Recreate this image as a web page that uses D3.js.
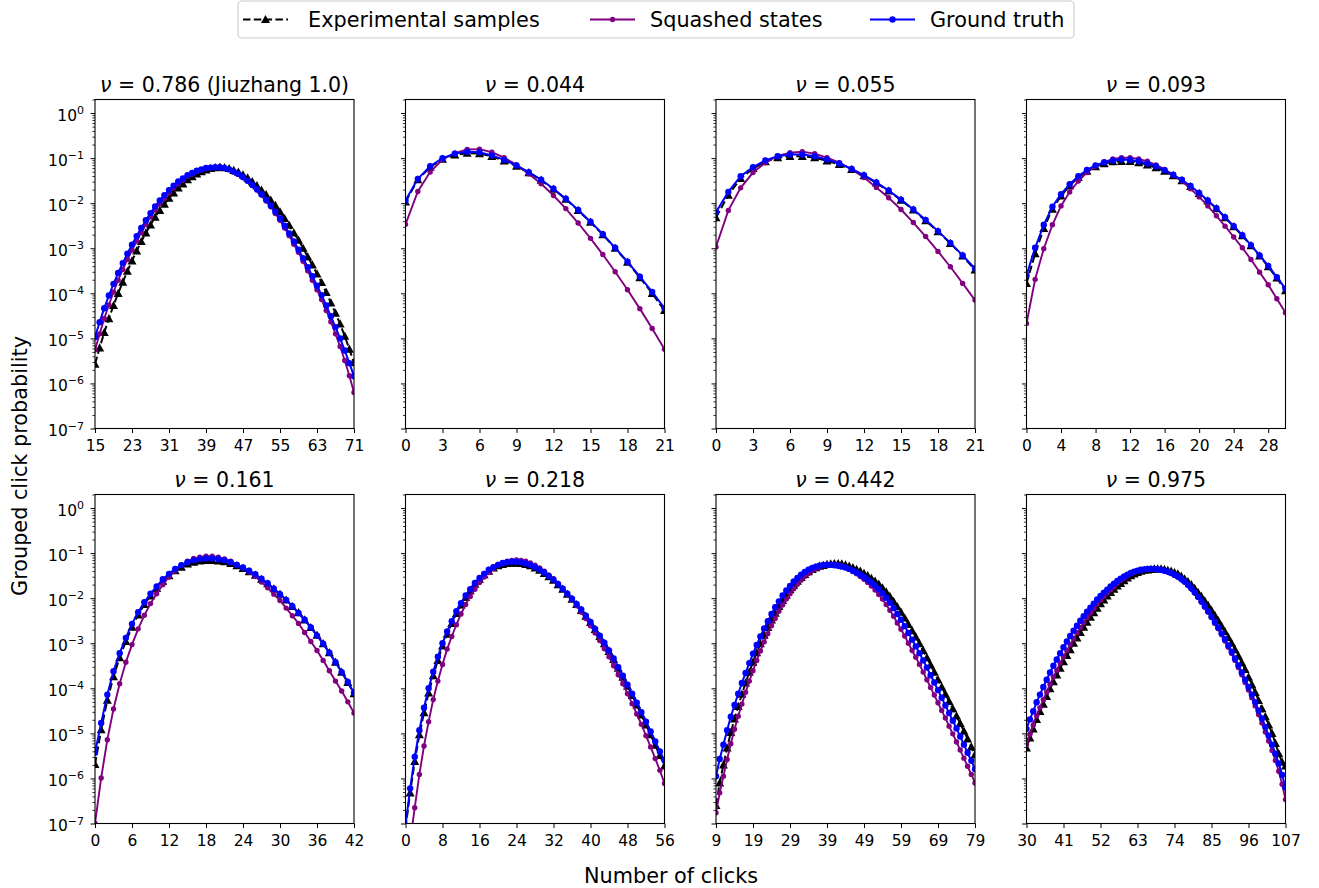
<!DOCTYPE html>
<html>
<head>
<meta charset="utf-8">
<script src="https://cdn.jsdelivr.net/npm/d3@7"></script>
<style>
  body { margin: 0; background: #fff; }
  text { font-family: "DejaVu Sans", sans-serif; fill: #000; }
</style>
</head>
<body>
<svg width="1319" height="888"></svg>
<script>
// panel titles and click ranges
var nuValues = ["0.786", "0.044", "0.055", "0.093", "0.161", "0.218", "0.442", "0.975"];
var titleNotes = [" (Jiuzhang 1.0)", "", "", "", "", "", "", ""];
var firstClick = [15, 0, 0, 0, 0, 0, 9, 30];
var lastClick = [71, 21, 21, 30, 42, 56, 79, 107];
var xTickValues = [
  [15, 23, 31, 39, 47, 55, 63, 71],
  [0, 3, 6, 9, 12, 15, 18, 21],
  [0, 3, 6, 9, 12, 15, 18, 21],
  [0, 4, 8, 12, 16, 20, 24, 28],
  [0, 6, 12, 18, 24, 30, 36, 42],
  [0, 8, 16, 24, 32, 40, 48, 56],
  [9, 19, 29, 39, 49, 59, 69, 79],
  [30, 41, 52, 63, 74, 85, 96, 107]
];
var yTickExponents = [0, -1, -2, -3, -4, -5, -6, -7];
var seriesNames = ["Experimental samples", "Squashed states", "Ground truth"];

// log10 of grouped click probability
// nu = 0.786 (clicks 15..71)
var exp0786 = [-5.57,-5.21,-4.87,-4.56,-4.27,-4.00,-3.75,-3.51,-3.28,-3.06,-2.85,-2.66,-2.48,-2.31,-2.16,-2.02,-1.89,-1.77,-1.66,-1.57,-1.48,-1.41,-1.35,-1.30,-1.26,-1.23,-1.21,-1.20,-1.21,-1.23,-1.27,-1.31,-1.37,-1.44,-1.52,-1.61,-1.71,-1.81,-1.93,-2.05,-2.19,-2.34,-2.49,-2.66,-2.82,-3.00,-3.19,-3.37,-3.57,-3.76,-3.98,-4.21,-4.44,-4.68,-4.95,-5.24,-5.54];
var sq0786 = [-5.26,-4.90,-4.56,-4.26,-3.97,-3.71,-3.47,-3.25,-3.04,-2.84,-2.65,-2.47,-2.30,-2.15,-2.01,-1.89,-1.77,-1.66,-1.57,-1.49,-1.41,-1.36,-1.30,-1.27,-1.23,-1.22,-1.20,-1.20,-1.22,-1.25,-1.30,-1.36,-1.43,-1.51,-1.61,-1.71,-1.82,-1.95,-2.08,-2.23,-2.38,-2.55,-2.72,-2.91,-3.09,-3.29,-3.50,-3.71,-3.92,-4.14,-4.38,-4.63,-4.90,-5.18,-5.49,-5.83,-6.20];
var gt0786 = [-4.97,-4.64,-4.33,-4.05,-3.79,-3.55,-3.33,-3.12,-2.92,-2.73,-2.55,-2.38,-2.22,-2.07,-1.94,-1.82,-1.71,-1.61,-1.52,-1.45,-1.38,-1.33,-1.28,-1.25,-1.22,-1.21,-1.20,-1.20,-1.22,-1.25,-1.30,-1.35,-1.42,-1.50,-1.59,-1.69,-1.80,-1.92,-2.05,-2.19,-2.34,-2.50,-2.67,-2.85,-3.03,-3.22,-3.42,-3.62,-3.83,-4.04,-4.27,-4.51,-4.75,-5.00,-5.27,-5.55,-5.84];
// nu = 0.044 (clicks 0..21)
var exp0044 = [-1.97,-1.48,-1.20,-1.02,-0.93,-0.89,-0.90,-0.96,-1.06,-1.18,-1.32,-1.49,-1.69,-1.91,-2.16,-2.42,-2.70,-3.00,-3.31,-3.65,-4.00,-4.38];
var sq0044 = [-2.47,-1.74,-1.31,-1.03,-0.89,-0.81,-0.80,-0.87,-0.99,-1.15,-1.35,-1.57,-1.83,-2.12,-2.44,-2.78,-3.14,-3.52,-3.92,-4.34,-4.78,-5.24];
var gt0044 = [-1.94,-1.46,-1.18,-1.00,-0.90,-0.86,-0.87,-0.94,-1.04,-1.16,-1.31,-1.48,-1.68,-1.90,-2.15,-2.41,-2.69,-2.99,-3.30,-3.63,-3.97,-4.33];
// nu = 0.055 (clicks 0..21)
var exp0055 = [-2.32,-1.82,-1.45,-1.23,-1.08,-0.99,-0.96,-0.96,-0.99,-1.06,-1.14,-1.25,-1.39,-1.55,-1.73,-1.93,-2.15,-2.39,-2.63,-2.89,-3.17,-3.48];
var sq0055 = [-2.97,-2.16,-1.66,-1.32,-1.10,-0.95,-0.88,-0.86,-0.90,-0.99,-1.10,-1.25,-1.43,-1.65,-1.88,-2.14,-2.43,-2.74,-3.07,-3.41,-3.78,-4.15];
var gt0055 = [-2.20,-1.75,-1.40,-1.20,-1.05,-0.96,-0.92,-0.92,-0.96,-1.03,-1.12,-1.24,-1.38,-1.54,-1.72,-1.92,-2.14,-2.37,-2.62,-2.88,-3.16,-3.45];
// nu = 0.093 (clicks 0..30)
var exp0093 = [-3.78,-3.12,-2.56,-2.13,-1.84,-1.61,-1.43,-1.29,-1.19,-1.12,-1.08,-1.07,-1.07,-1.10,-1.15,-1.21,-1.29,-1.39,-1.50,-1.63,-1.78,-1.95,-2.12,-2.32,-2.52,-2.72,-2.94,-3.17,-3.41,-3.66,-3.94];
var sq0093 = [-4.67,-3.69,-3.01,-2.48,-2.06,-1.75,-1.51,-1.32,-1.18,-1.09,-1.02,-0.99,-0.99,-1.02,-1.07,-1.15,-1.25,-1.37,-1.51,-1.68,-1.86,-2.06,-2.28,-2.51,-2.75,-2.99,-3.25,-3.53,-3.81,-4.12,-4.43];
var gt0093 = [-3.60,-2.99,-2.48,-2.08,-1.80,-1.58,-1.40,-1.26,-1.16,-1.09,-1.05,-1.03,-1.04,-1.07,-1.12,-1.18,-1.27,-1.37,-1.48,-1.62,-1.77,-1.94,-2.11,-2.31,-2.51,-2.71,-2.93,-3.16,-3.39,-3.64,-3.90];
// nu = 0.161 (clicks 0..42)
var exp0161 = [-5.69,-4.92,-4.26,-3.74,-3.32,-2.96,-2.64,-2.37,-2.14,-1.95,-1.78,-1.62,-1.50,-1.39,-1.31,-1.24,-1.20,-1.17,-1.16,-1.16,-1.17,-1.19,-1.23,-1.28,-1.34,-1.41,-1.49,-1.58,-1.68,-1.79,-1.91,-2.04,-2.18,-2.32,-2.48,-2.65,-2.82,-3.01,-3.21,-3.42,-3.64,-3.87,-4.12];
var sq0161 = [-7.00,-5.99,-5.14,-4.46,-3.90,-3.42,-3.03,-2.68,-2.38,-2.12,-1.90,-1.70,-1.53,-1.39,-1.27,-1.18,-1.12,-1.09,-1.07,-1.07,-1.09,-1.13,-1.18,-1.25,-1.33,-1.42,-1.52,-1.64,-1.77,-1.91,-2.05,-2.22,-2.39,-2.56,-2.76,-2.96,-3.16,-3.38,-3.61,-3.84,-4.06,-4.30,-4.55];
var gt0161 = [-5.43,-4.77,-4.14,-3.62,-3.22,-2.88,-2.57,-2.31,-2.09,-1.90,-1.74,-1.58,-1.46,-1.35,-1.27,-1.20,-1.16,-1.13,-1.12,-1.12,-1.13,-1.16,-1.20,-1.26,-1.32,-1.39,-1.47,-1.57,-1.67,-1.79,-1.91,-2.04,-2.18,-2.33,-2.48,-2.65,-2.83,-3.01,-3.21,-3.42,-3.64,-3.86,-4.10];
// nu = 0.218 (clicks 0..56)
var exp0218 = [-7.10,-6.32,-5.62,-5.03,-4.54,-4.10,-3.72,-3.38,-3.06,-2.80,-2.56,-2.34,-2.15,-1.98,-1.83,-1.69,-1.58,-1.48,-1.40,-1.33,-1.28,-1.25,-1.23,-1.22,-1.22,-1.23,-1.25,-1.28,-1.33,-1.38,-1.45,-1.52,-1.60,-1.70,-1.80,-1.91,-2.02,-2.14,-2.27,-2.40,-2.54,-2.69,-2.85,-3.01,-3.18,-3.36,-3.55,-3.75,-3.95,-4.16,-4.37,-4.59,-4.81,-5.03,-5.26,-5.49,-5.72];
var sq0218 = [-8.20,-7.40,-6.65,-5.91,-5.28,-4.74,-4.25,-3.84,-3.47,-3.13,-2.85,-2.59,-2.35,-2.14,-1.96,-1.80,-1.65,-1.53,-1.43,-1.34,-1.27,-1.22,-1.18,-1.16,-1.15,-1.16,-1.18,-1.22,-1.27,-1.33,-1.40,-1.49,-1.57,-1.68,-1.79,-1.91,-2.03,-2.17,-2.31,-2.45,-2.61,-2.77,-2.94,-3.12,-3.30,-3.50,-3.70,-3.90,-4.12,-4.34,-4.57,-4.80,-5.05,-5.30,-5.56,-5.82,-6.11];
var gt0218 = [-7.05,-6.22,-5.52,-4.93,-4.43,-4.00,-3.63,-3.30,-3.00,-2.74,-2.51,-2.29,-2.11,-1.94,-1.80,-1.66,-1.55,-1.46,-1.37,-1.31,-1.26,-1.22,-1.20,-1.19,-1.19,-1.20,-1.23,-1.26,-1.31,-1.37,-1.43,-1.51,-1.59,-1.69,-1.79,-1.90,-2.01,-2.13,-2.25,-2.39,-2.53,-2.68,-2.83,-2.99,-3.16,-3.34,-3.53,-3.72,-3.92,-4.12,-4.32,-4.53,-4.74,-4.96,-5.18,-5.40,-5.60];
// nu = 0.442 (clicks 9..79)
var exp0442 = [-6.60,-6.10,-5.70,-5.32,-4.98,-4.68,-4.40,-4.13,-3.88,-3.64,-3.42,-3.21,-3.01,-2.82,-2.65,-2.48,-2.33,-2.18,-2.05,-1.93,-1.81,-1.71,-1.62,-1.54,-1.47,-1.41,-1.36,-1.32,-1.29,-1.27,-1.25,-1.24,-1.23,-1.23,-1.24,-1.26,-1.29,-1.32,-1.36,-1.40,-1.45,-1.50,-1.56,-1.62,-1.69,-1.77,-1.86,-1.96,-2.07,-2.19,-2.31,-2.44,-2.58,-2.72,-2.86,-3.01,-3.16,-3.32,-3.48,-3.64,-3.81,-3.97,-4.13,-4.29,-4.45,-4.61,-4.78,-4.95,-5.12,-5.30,-5.47];
var sq0442 = [-6.76,-6.32,-5.95,-5.58,-5.23,-4.91,-4.62,-4.35,-4.09,-3.84,-3.61,-3.38,-3.17,-2.97,-2.79,-2.61,-2.45,-2.29,-2.15,-2.02,-1.90,-1.79,-1.69,-1.60,-1.52,-1.45,-1.39,-1.35,-1.31,-1.28,-1.26,-1.25,-1.25,-1.26,-1.28,-1.32,-1.36,-1.41,-1.46,-1.52,-1.58,-1.65,-1.73,-1.82,-1.92,-2.02,-2.14,-2.27,-2.40,-2.55,-2.69,-2.84,-3.00,-3.16,-3.31,-3.47,-3.64,-3.81,-3.98,-4.15,-4.32,-4.49,-4.66,-4.84,-5.01,-5.19,-5.37,-5.55,-5.73,-5.91,-6.10];
var gt0442 = [-5.95,-5.57,-5.25,-4.93,-4.63,-4.37,-4.12,-3.88,-3.66,-3.44,-3.23,-3.04,-2.85,-2.67,-2.51,-2.35,-2.20,-2.07,-1.94,-1.83,-1.73,-1.63,-1.55,-1.48,-1.42,-1.37,-1.33,-1.30,-1.28,-1.26,-1.26,-1.26,-1.27,-1.28,-1.30,-1.32,-1.35,-1.39,-1.43,-1.48,-1.53,-1.59,-1.65,-1.72,-1.80,-1.89,-1.99,-2.10,-2.22,-2.35,-2.48,-2.62,-2.77,-2.92,-3.07,-3.22,-3.38,-3.54,-3.71,-3.87,-4.04,-4.21,-4.38,-4.55,-4.72,-4.89,-5.07,-5.25,-5.43,-5.61,-5.79];
// nu = 0.975 (clicks 30..107)
var exp0975 = [-5.32,-5.10,-4.90,-4.69,-4.51,-4.35,-4.18,-4.01,-3.85,-3.70,-3.55,-3.41,-3.27,-3.14,-3.00,-2.88,-2.76,-2.64,-2.53,-2.42,-2.32,-2.22,-2.12,-2.04,-1.95,-1.87,-1.80,-1.73,-1.67,-1.61,-1.55,-1.50,-1.46,-1.43,-1.40,-1.38,-1.37,-1.36,-1.35,-1.35,-1.35,-1.36,-1.38,-1.40,-1.43,-1.46,-1.51,-1.57,-1.63,-1.70,-1.78,-1.87,-1.96,-2.06,-2.16,-2.27,-2.38,-2.50,-2.62,-2.74,-2.87,-3.00,-3.14,-3.28,-3.43,-3.58,-3.75,-3.92,-4.09,-4.27,-4.45,-4.63,-4.81,-5.00,-5.22,-5.45,-5.64,-5.72];
var sq0975 = [-5.25,-5.02,-4.82,-4.61,-4.43,-4.25,-4.08,-3.91,-3.75,-3.60,-3.44,-3.30,-3.16,-3.03,-2.90,-2.77,-2.65,-2.54,-2.43,-2.33,-2.23,-2.13,-2.04,-1.96,-1.88,-1.81,-1.74,-1.67,-1.61,-1.56,-1.51,-1.46,-1.43,-1.40,-1.38,-1.37,-1.36,-1.35,-1.35,-1.36,-1.37,-1.39,-1.42,-1.45,-1.49,-1.53,-1.58,-1.64,-1.71,-1.79,-1.88,-1.98,-2.09,-2.20,-2.31,-2.43,-2.56,-2.68,-2.81,-2.95,-3.09,-3.23,-3.38,-3.54,-3.70,-3.87,-4.04,-4.21,-4.39,-4.58,-4.77,-4.97,-5.17,-5.38,-5.60,-5.84,-6.13,-6.47];
var gt0975 = [-4.90,-4.69,-4.51,-4.31,-4.14,-3.97,-3.81,-3.65,-3.50,-3.36,-3.22,-3.09,-2.96,-2.84,-2.72,-2.61,-2.50,-2.40,-2.30,-2.21,-2.12,-2.03,-1.95,-1.88,-1.81,-1.74,-1.68,-1.62,-1.57,-1.52,-1.48,-1.44,-1.41,-1.39,-1.37,-1.36,-1.35,-1.35,-1.35,-1.36,-1.37,-1.39,-1.41,-1.44,-1.48,-1.52,-1.57,-1.63,-1.70,-1.78,-1.87,-1.97,-2.07,-2.18,-2.29,-2.41,-2.53,-2.65,-2.78,-2.91,-3.05,-3.19,-3.34,-3.49,-3.65,-3.81,-3.97,-4.14,-4.31,-4.49,-4.67,-4.86,-5.05,-5.25,-5.45,-5.67,-5.92,-6.20];

var expData = [exp0786, exp0044, exp0055, exp0093, exp0161, exp0218, exp0442, exp0975];
var sqData = [sq0786, sq0044, sq0055, sq0093, sq0161, sq0218, sq0442, sq0975];
var gtData = [gt0786, gt0044, gt0055, gt0093, gt0161, gt0218, gt0442, gt0975];

var svg = d3.select("svg");
var panelLefts = [95, 405.5, 716, 1026.5],
    rowTops = [99.5, 494.5],
    pw = 259, ph = 329;

var styles = [
  { color: "#000000", dash: "7.5,3.3", marker: "triangle", width: 2 },
  { color: "#800080", dash: null, marker: "circle", r: 2.7, width: 1.9 },
  { color: "#0000ff", dash: null, marker: "circle", r: 3.2, width: 2 }
];

var trianglePath = "M0,-4.6L4.5,3.6L-4.5,3.6Z";

function drawMarkers(sel, pts, st, xf, yf) {
  if (st.marker === "triangle") {
    sel.selectAll("path.mk").data(pts).enter().append("path")
      .attr("class", "mk")
      .attr("d", trianglePath)
      .attr("transform", function(d) { return "translate(" + xf(d) + "," + yf(d) + ")"; })
      .attr("fill", st.color);
  } else {
    sel.selectAll("circle.mk").data(pts).enter().append("circle")
      .attr("class", "mk")
      .attr("cx", xf).attr("cy", yf)
      .attr("r", st.r)
      .attr("fill", st.color);
  }
}

var defs = svg.append("defs");
var minorVals = [];
yTickExponents.forEach(function(e) {
  for (var m = 2; m <= 9; m++) {
    if (m * Math.pow(10, e) <= 2) minorVals.push(m * Math.pow(10, e));
  }
});

nuValues.forEach(function(nu, i) {
  var col = i % 4, row = Math.floor(i / 4);
  var g = svg.append("g")
    .attr("transform", "translate(" + panelLefts[col] + "," + rowTops[row] + ")");

  var x = d3.scaleLinear().domain([firstClick[i], lastClick[i]]).range([0, pw]);
  var y = d3.scaleLog().domain([1e-7, 2]).range([ph, 0]);

  defs.append("clipPath").attr("id", "clip" + i)
    .append("rect").attr("width", pw).attr("height", ph);

  var plot = g.append("g").attr("clip-path", "url(#clip" + i + ")");

  [expData[i], sqData[i], gtData[i]].forEach(function(vals, s) {
    var st = styles[s];
    var pts = vals.map(function(v, k) { return { c: firstClick[i] + k, p: Math.pow(10, v) }; });
    var line = d3.line().x(function(d) { return x(d.c); }).y(function(d) { return y(d.p); });
    plot.append("path")
      .datum(pts)
      .attr("d", line)
      .attr("fill", "none")
      .attr("stroke", st.color)
      .attr("stroke-width", st.width)
      .attr("stroke-dasharray", st.dash);
    drawMarkers(plot.append("g"), pts,
      st, function(d) { return x(d.c); }, function(d) { return y(d.p); });
  });

  // x axis
  var xa = g.append("g")
    .attr("transform", "translate(0," + ph + ")")
    .call(d3.axisBottom(x).tickValues(xTickValues[i]).tickSize(4.5).tickPadding(6.8)
      .tickFormat(d3.format("d")));
  xa.select(".domain").remove();
  xa.selectAll("text").attr("font-size", 15.5).attr("font-family", "DejaVu Sans");

  // y axis, major + minor ticks
  var ya = g.append("g")
    .call(d3.axisLeft(y).tickValues(yTickExponents.map(function(e) { return Math.pow(10, e); }))
      .tickSize(4.5).tickFormat(""));
  ya.select(".domain").remove();
  var ym = g.append("g")
    .call(d3.axisLeft(y).tickValues(minorVals).tickSize(2.6).tickFormat(""));
  ym.select(".domain").remove();
  ym.selectAll("line").attr("stroke-width", 0.8);

  if (col === 0) {
    yTickExponents.forEach(function(e) {
      var t = g.append("text")
        .attr("x", -11)
        .attr("y", y(Math.pow(10, e)) + 7.5)
        .attr("text-anchor", "end")
        .attr("font-size", 15.5);
      t.append("tspan").text("10");
      t.append("tspan").attr("dy", -6.5).attr("font-size", 11)
        .text(e < 0 ? "\u2212" + (-e) : String(e));
    });
  }

  // frame
  g.append("rect")
    .attr("width", pw).attr("height", ph)
    .attr("fill", "none").attr("stroke", "#000").attr("stroke-width", 1.1);

  // title
  var title = g.append("text")
    .attr("x", pw / 2).attr("y", -8)
    .attr("text-anchor", "middle")
    .attr("font-size", 20.5);
  title.append("tspan").attr("font-style", "italic").text("\u03bd");
  title.append("tspan").text(" = " + nu + titleNotes[i]);
});

// axis labels
svg.append("text")
  .attr("x", 671).attr("y", 883)
  .attr("text-anchor", "middle")
  .attr("font-size", 20.8)
  .text("Number of clicks");

svg.append("text")
  .attr("transform", "translate(27,466) rotate(-90)")
  .attr("text-anchor", "middle")
  .attr("font-size", 20.8)
  .text("Grouped click probability");

// legend
var legend = svg.append("g");
legend.append("rect")
  .attr("x", 238).attr("y", 1).attr("width", 836).attr("height", 37).attr("rx", 4)
  .attr("fill", "#fff").attr("stroke", "#cccccc").attr("stroke-width", 1.1);

var legendHandleX = [243, 590, 870];
var legendTextX = [308, 650, 930];
seriesNames.forEach(function(name, s) {
  var st = styles[s];
  var lg = legend.append("g");
  lg.append("line")
    .attr("x1", legendHandleX[s]).attr("x2", legendHandleX[s] + 45)
    .attr("y1", 19.5).attr("y2", 19.5)
    .attr("stroke", st.color).attr("stroke-width", st.width)
    .attr("stroke-dasharray", st.dash);
  drawMarkers(lg, [legendHandleX[s] + 22.5], st,
    function(d) { return d; }, function() { return 19.5; });
  lg.append("text")
    .attr("x", legendTextX[s]).attr("y", 27)
    .attr("font-size", 20.8)
    .text(name);
});
</script>
</body>
</html>
